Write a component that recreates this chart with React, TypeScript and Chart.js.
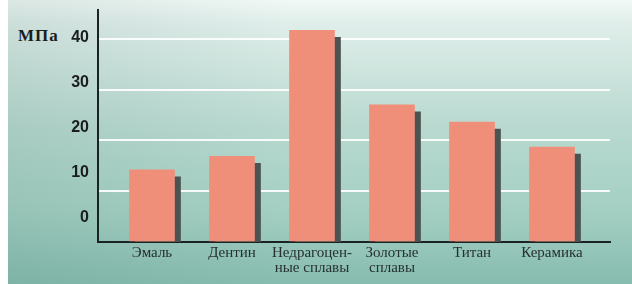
import React, { useEffect, useRef } from "react";
import { Chart, registerables } from "chart.js";

Chart.register(...registerables);

const categories: (string | string[])[] = [
  "Эмаль",
  "Дентин",
  ["Недрагоцен-", "ные сплавы"],
  ["Золотые", "сплавы"],
  "Титан",
  "Керамика",
];
const values = [14.2, 16.9, 41.7, 27.0, 23.6, 18.7];
const gridTicks = [0, 10, 20, 30, 40];
const labelTicks = [0, 10, 20, 30, 40];
const unitLabel = "МПа";

const shadowPlugin = {
  id: "barShadow",
  beforeDatasetsDraw(chart: any) {
    const ctx = chart.ctx;
    ctx.save();
    ctx.shadowColor = "#4b5351";
    ctx.shadowOffsetX = 6;
    ctx.shadowOffsetY = 7;
    ctx.shadowBlur = 0;
  },
  afterDatasetsDraw(chart: any) {
    chart.ctx.restore();
  },
};

const zeroPad = (scale: any) => {
  scale.paddingTop = 0;
  scale.paddingBottom = 0;
  scale.paddingLeft = 0;
  scale.paddingRight = 0;
};

export default function App() {
  const ref = useRef<HTMLCanvasElement>(null);
  useEffect(() => {
    if (!ref.current) return;
    const chart = new Chart(ref.current, {
      type: "bar",
      data: {
        datasets: [
          {
            data: values.map((v, i) => ({ x: i, y: v })),
            backgroundColor: "#ef8f79",
            borderWidth: 0,
            barThickness: 45,
            xAxisID: "x",
            yAxisID: "y",
          } as any,
        ],
      },
      plugins: [shadowPlugin],
      options: {
        animation: false,
        responsive: true,
        maintainAspectRatio: false,
        layout: { padding: { top: 10, right: 22, bottom: 8, left: 0 } },
        plugins: { legend: { display: false }, tooltip: { enabled: false } },
        scales: {
          x: {
            type: "linear",
            min: -0.675,
            max: 5.725,
            offset: false,
            grid: { display: false, drawTicks: false, offset: false },
            border: { display: true, color: "#1b2322", width: 2 },
            afterBuildTicks: (scale: any) => {
              scale.ticks = categories.map((_, i) => ({ value: i }));
            },
            afterFit: (scale: any) => {
              scale.height = 34;
              zeroPad(scale);
            },
            ticks: {
              autoSkip: false,
              maxRotation: 0,
              padding: 4,
              color: "#26302f",
              font: { family: "'Liberation Serif', 'Times New Roman', serif", size: 15, lineHeight: 1.0 },
              callback: (v: any) => categories[Math.round(Number(v))] as any,
            },
          },
          y: {
            type: "linear",
            position: "left",
            weight: 0,
            min: 0,
            max: 45.7,
            afterBuildTicks: (scale: any) => {
              scale.ticks = gridTicks.map((v) => ({ value: v }));
            },
            afterFit: (scale: any) => {
              scale.width = 0;
              zeroPad(scale);
            },
            ticks: { display: false },
            grid: {
              drawTicks: false,
              lineWidth: 2,
              color: (ctx: any) => (ctx.tick && ctx.tick.value === 0 ? "rgba(0,0,0,0)" : "rgba(255,255,255,0.9)"),
            },
            border: { display: true, color: "#1b2322", width: 2 },
          },
          y2: {
            type: "linear",
            position: "left",
            weight: 1,
            min: -5.33,
            max: 46.2,
            afterBuildTicks: (scale: any) => {
              scale.ticks = labelTicks.map((v) => ({ value: v }));
            },
            afterFit: (scale: any) => {
              scale.width = 90;
              zeroPad(scale);
            },
            grid: { display: false, drawTicks: false },
            border: { display: false },
            ticks: {
              padding: 9,
              color: "#1a1d1d",
              font: { family: "'Liberation Sans', Arial, sans-serif", size: 16, weight: "bold" },
            },
          },
        },
      } as any,
    });
    return () => chart.destroy();
  }, []);

  return (
    <div
      style={{
        position: "absolute",
        left: 8,
        top: 0,
        width: 624,
        height: 284,
        background:
          "linear-gradient(to right, rgba(60,110,100,0.12) 0%, rgba(60,110,100,0) 45%), linear-gradient(to bottom, #f1f8f6 0%, #e0eeea 8%, #b8d9cf 45%, #a3cfc2 75%, #86bcaf 100%)",
      }}
    >
      <div
        style={{
          position: "absolute",
          left: 10,
          top: 26,
          fontFamily: "'Liberation Serif', 'Times New Roman', serif",
          fontWeight: "bold",
          fontSize: 17,
          lineHeight: "20px",
          letterSpacing: 1,
          color: "#1a1d1d",
        }}
      >
        {unitLabel}
      </div>
      <canvas ref={ref} style={{ position: "absolute", left: 0, top: 0 }} />
      <div style={{ width: 624, height: 284 }} />
    </div>
  );
}
